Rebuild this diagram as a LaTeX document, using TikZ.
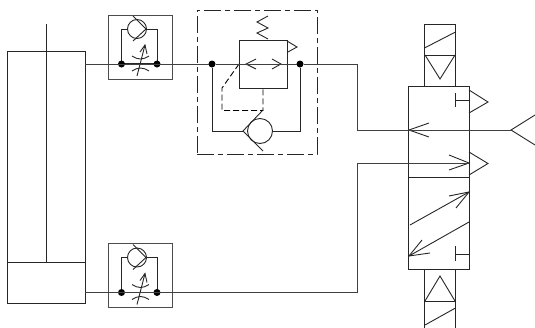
\documentclass[tikz,border=0pt]{standalone}
\usetikzlibrary{calc}
\tikzset{
  ln/.style={line width=0.9pt,draw=black!85,line join=miter},
  boxn/.style={ln,rectangle,inner sep=0pt,outer sep=0pt},
  junction/.style={circle,fill=black,draw=none,minimum size=7pt,inner sep=0pt,outer sep=0pt},
  ballv/.style={ln,circle,inner sep=0pt,outer sep=0pt},
  pics/flowctl/.style={code={
    \draw[ln,draw=black!70] (108,15) rectangle (172,79);
    \draw[ln] (121.5,64) -- (121.5,29) -- (127,29);
    \draw[ln] (157,64) -- (157,29) -- (146,29);
    \draw[ln,line width=1.2pt] (121.5,64) -- (157,64);
    \draw[ln] (137,29) circle (9.5);
    \draw[ln] (133,16) -- (146,29) -- (133,41);
    \draw[ln] (132,56) .. controls (138,60) and (143,60) .. (149,56);
    \draw[ln] (132,71) .. controls (138,67) and (143,67) .. (149,71);
    \draw[ln] (137,76) -- (145,45);
    \draw[ln] (140,52) -- (145,45) -- (147,54);
    \node[junction] at (121.5,64) {};
    \node[junction] at (157,64) {};
  }}
}
\begin{document}
\begin{tikzpicture}[x=1pt,y=-1pt]
\useasboundingbox (0,0) rectangle (535,327);
% cylinder
\node[boxn,minimum width=78pt,minimum height=252pt] (cyl) at (46,177) {};
\coordinate (rodtop) at (46,24);
\coordinate (pistonL) at (7,262);
\coordinate (pistonR) at (85,262);
\draw[ln] (pistonL) -- (pistonR);
\draw[ln] (rodtop) -- (46,262);
% flow controls
\pic at (0,0) {flowctl};
\pic at (0,228.5) {flowctl};
% dashed enclosure
\node[boxn,dash pattern=on 17pt off 4pt on 5pt off 4pt,minimum width=120pt,minimum height=144pt] (encl) at (257,82) {};
% relief block
\node[boxn,minimum width=48pt,minimum height=48pt] (relief) at (263,64) {};
\draw[ln] (268,16) -- (257,22) -- (268,28) -- (257,33) -- (268,39);
\draw[ln] (287,41) -- (297,47) -- (287,52.5);
\draw[ln] (256,59) -- (246,64) -- (256,69);
\draw[ln] (272,59) -- (281,64) -- (272,69);
% junctions
\node[junction] (ja) at (212,64) {};
\node[junction] (jb) at (300,64) {};
% lower check
\node[ballv,minimum size=25pt] (ball) at (260,131) {};
\coordinate (seat) at (243,131);
\draw[ln] (263,110) -- (seat) -- (263,151);
\draw[ln] (ja) -- (212,131) -- (seat);
\draw[ln] (jb) -- (300,131) -- (ball.east);
\draw[ln,draw=black,dash pattern=on 6pt off 3pt] (relief.west) -- (222,88) -- (222,110.5) -- (263,110.5) -- (relief.south);
% valve
\node[boxn,minimum width=60.5pt,minimum height=183pt] (valve) at (439,177.5) {};
\draw[ln] (valve.west) -- (valve.east);
\node[boxn,minimum width=31pt,minimum height=62pt] (solT) at (440,55) {};
\draw[ln] (424.5,55) -- (455.5,55);
\draw[ln] (424.5,48) -- (455.5,32);
\draw[ln] (425,55) -- (440,79) -- (455,55);
\coordinate (solBL) at (424.5,330);
\coordinate (solBR) at (455.5,330);
\draw[ln] (424.5,269) -- (solBL) (455.5,269) -- (solBR);
\draw[ln] (424.5,301) -- (455.5,301);
\draw[ln] (425,325) -- (455.5,308);
\draw[ln] (425,301) -- (440,276) -- (455,301);
% blocked port and exhaust
\draw[ln] (455,93) -- (455,107) (455,100) -- (469,100);
\draw[ln] (469,90) -- (488,102) -- (469,113);
\draw[ln] (455,246) -- (455,261) (455,254) -- (469,254);
\draw[ln] (469,152) -- (488,163.5) -- (469,175);
% arrows in valve
\draw[ln] (429,123) -- (409,130) -- (429,137);
\draw[ln] (449,155) -- (469,163) -- (449,170);
\draw[ln] (410,225) -- (469,192);
\draw[ln] (449,196) -- (469,192) -- (456,208);
\draw[ln] (469,222) -- (409,256);
\draw[ln] (422,240) -- (409,256) -- (430,253);
% exhaust silencer
\coordinate (ex) at (511,130);
\draw[ln] (535,115) -- (ex) -- (535,145);
% main lines
\draw[ln,draw=black!75] (cyl.east |- ja) -- (ja) -- (jb) -- (357,64) -- (357,130) -- (ex);
\draw[ln,draw=black!75] (cyl.east |- 0,292.5) -- (357,292.5) -- (357,163) -- (469,163);
\end{tikzpicture}
\end{document}
